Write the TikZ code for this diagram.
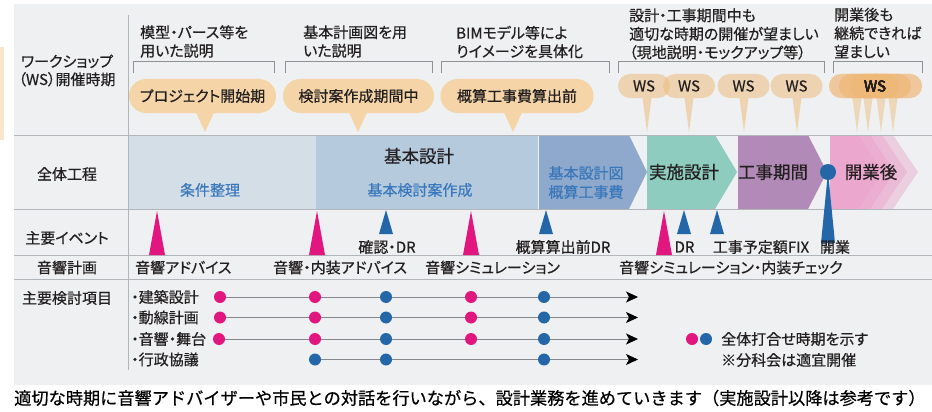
\documentclass[tikz,border=0pt]{standalone}
\usepackage{fontspec}
\setmainfont{Noto Sans CJK JP}[RawFeature=+palt, FakeBold=0.5]
\newfontfamily\capfont{Noto Sans CJK JP}[FakeBold=0.5]
\usetikzlibrary{calc,arrows.meta}

\definecolor{panelgray}{HTML}{EEF0F1}
\definecolor{rulegray}{HTML}{B2B6BA}
\definecolor{inkgray}{HTML}{231F20}
\definecolor{wsorange}{HTML}{F5D5A8}
\definecolor{wsdeep}{HTML}{EFB877}
\definecolor{prepblue}{HTML}{D3DEE7}
\definecolor{basicblue}{HTML}{B6CADE}
\definecolor{costblue}{HTML}{8EA9CB}
\definecolor{textblue}{HTML}{3A78BC}
\definecolor{detailteal}{HTML}{8DCCBE}
\definecolor{workpurple}{HTML}{B28AB7}
\definecolor{openpink}{HTML}{EB9DCA}
\definecolor{eventpink}{HTML}{E2167F}
\definecolor{eventblue}{HTML}{2467A9}
\definecolor{trackgray}{HTML}{85878A}

\tikzset{
	rowlabel/.style={text=inkgray, align=center, font=\fontsize{15}{18}\selectfont},
	note/.style={text=inkgray, anchor=west, align=left, inner sep=0pt, font=\fontsize{15}{18.5}\selectfont},
	bracket/.style={draw=rulegray!80!black, line width=0.8pt},
	bubble/.style={fill=wsorange, rounded corners=17pt, minimum height=34pt, inner sep=0pt, text=inkgray, font=\fontsize{15}{18}\selectfont},
	wsbubble/.style={fill=wsdeep, fill opacity=0.5, text opacity=1, rounded corners=12pt, minimum width=52pt, minimum height=24pt, inner sep=0pt, text=inkgray, font=\fontsize{15}{18}\selectfont},
	phase/.style={text=inkgray, font=\fontsize{17.5}{21}\selectfont},
	subphase/.style={text=textblue, align=center, font=\fontsize{15}{19}\selectfont},
	event/.style={text=inkgray, inner sep=0pt, font=\fontsize{15}{18}\selectfont},
	pdot/.style={circle, fill=eventpink, inner sep=0pt, minimum size=12pt},
	bdot/.style={circle, fill=eventblue, inner sep=0pt, minimum size=12pt},
	track/.style={draw=trackgray, line width=0.8pt, -{Stealth[length=12pt,width=11pt,inset=3pt,black]}},
}

\def\pinkmark(#1){\fill[eventpink] ({#1-8},255) -- (#1,211) -- ({#1+8},255) -- cycle;}
\def\bluemark(#1){\fill[eventblue] ({#1-7},234) -- (#1,210) -- ({#1+7},234) -- cycle;}
\def\wsbracket(#1:#2){\draw[bracket] (#1,73) -- (#1,61.5) -- (#2,61.5) -- (#2,73);}
\def\bubbletip[#1](#2:#3:#4){\fill[#1] ({#2-#4},#3) -- (#2,132) -- ({#2+#4},#3) -- cycle;}

\begin{document}
\begin{tikzpicture}[x=1pt,y=-1pt]
			%%%%% FRAME %%%%%
			\useasboundingbox (0,0) rectangle (932,412);
			\fill[white] (0,0) rectangle (932,412);
			\fill[wsorange!60] (0,47) rectangle (3.5,140);
			\fill[panelgray] (14,4) rectangle (932,385);
			
			%%%%% PHASES %%%%%
			\fill[prepblue] (128,135) rectangle (316,209);
			\fill[basicblue] (316,135) rectangle (538,209);
			\fill[costblue] (539,135) -- (629,135) -- (647,172) -- (629,209) -- (539,209) -- cycle;
			\fill[detailteal] (647,135) -- (715,135) -- (737,172) -- (715,209) -- (647,209) -- cycle;
			\fill[workpurple] (738,135) -- (808,135) -- (827,172) -- (808,209) -- (738,209) -- cycle;
			\foreach \e in {858,870,882,893}
				\fill[openpink, fill opacity=0.4] (830,135) -- (\e,135) -- ({\e+25},172) -- (\e,209) -- (830,209) -- cycle;
			
			%%%%% RULES %%%%%
			\draw[rulegray, line width=0.8pt] (128,15) -- (128,370);
			\foreach \y in {135,209,255,279}
				\draw[rulegray, line width=0.8pt] (14,\y) -- (932,\y);
			
			%%%%% ROW LABELS %%%%%
			\node[rowlabel] (lab-ws) at (67,70.5) {ワークショップ\\（WS）開催時期};
			\node[rowlabel] (lab-all) at (67,174) {全体工程};
			\node[rowlabel] (lab-event) at (67,238) {主要イベント};
			\node[rowlabel] (lab-acoustic) at (67,267.5) {音響計画};
			\node[rowlabel] (lab-items) at (67,298) {主要検討項目};
			
			%%%%% WORKSHOPS %%%%%
			\node[note] (n-model) at (140,41.5) {模型・パース等を\\用いた説明};
			\node[note] (n-plan) at (303,41.5) {基本計画図を用\\いた説明};
			\node[note] (n-bim) at (456,42) {BIMモデル等によ\\りイメージを具体化};
			\node[note] (n-during) at (629,34) {設計・工事期間中も\\適切な時期の開催が望ましい\\（現地説明・モックアップ等）};
			\node[note] (n-after) at (834,33) {開業後も\\継続できれば\\望ましい};
			\wsbracket(133:274)
			\wsbracket(285:432)
			\wsbracket(441:609)
			\wsbracket(618:824)
			\wsbracket(833:922)
			
			\node[bubble, minimum width=147pt] (ws-start) at (202.5,96) {プロジェクト開始期};
			\bubbletip[wsorange](205:112.5:9)
			\node[bubble, minimum width=151pt] (ws-study) at (358.5,96) {検討案作成期間中};
			\bubbletip[wsorange](358:112.5:9)
			\node[bubble, minimum width=153pt] (ws-cost) at (517,96) {概算工事費算出前};
			\bubbletip[wsorange](513:112.5:9)
			
			\node[wsbubble] (ws-a) at (644,86) {WS};
			\node[wsbubble] (ws-b) at (689,86) {WS};
			\node[wsbubble] (ws-c) at (743.5,86) {WS};
			\node[wsbubble] (ws-d) at (796.5,86) {WS};
			\foreach \t in {647,689,744,797}
				\bubbletip[wsdeep, fill opacity=0.5](\t:98:4.5)
			\foreach \c in {859,869,881,892}
				\fill[wsdeep, fill opacity=0.25, rounded corners=12pt] ({\c-30},74) rectangle ({\c+30},98);
			\foreach \t in {857,868,881,893}
				\bubbletip[wsdeep, fill opacity=0.45](\t:98:4.5)
			\node[text=inkgray, font=\fontsize{15}{18}\selectfont] (ws-e) at (875,86) {WS};
			
			%%%%% PHASE TEXT %%%%%
			\node[subphase] (ph-prep) at (210,190) {条件整理};
			\node[phase] (ph-basic) at (419,156) {基本設計};
			\node[subphase] (ph-study) at (420,190) {基本検討案作成};
			\node[subphase] (ph-cost) at (586,182.5) {基本設計図\\概算工事費};
			\node[phase] (ph-detail) at (684,172) {実施設計};
			\node[phase] (ph-work) at (773,172) {工事期間};
			\node[phase] (ph-open) at (871,172) {開業後};
			
			%%%%% EVENTS %%%%%
			\pinkmark(157)
			\pinkmark(317)
			\pinkmark(471)
			\pinkmark(664)
			\bluemark(386)
			\bluemark(546)
			\bluemark(684)
			\bluemark(717)
			\node[circle, fill=eventblue, inner sep=0pt, minimum size=16pt] (ev-open) at (828,172) {};
			\fill[eventblue] (ev-open.center) -- (821,243) -- (835,243) -- cycle;
			\node[event] (ev-check) at (387,247) {確認・DR};
			\node[event] (ev-cost) at (563,247) {概算算出前DR};
			\node[event] (ev-dr) at (684.5,247) {DR};
			\node[event] (ev-fix) at (761,247) {工事予定額FIX};
			\node[event] (ev-open-t) at (835,247) {開業};
			
			%%%%% ACOUSTICS %%%%%
			\node[event, anchor=west] (ac-1) at (135,267.5) {音響アドバイス};
			\node[event, anchor=west] (ac-2) at (273,267.5) {音響・内装アドバイス};
			\node[event, anchor=west] (ac-3) at (425,267.5) {音響シミュレーション};
			\node[event, anchor=west] (ac-4) at (619,267.5) {音響シミュレーション・内装チェック};
			
			%%%%% ITEMS %%%%%
			\node[event, anchor=west] (it-arch) at (131,297) {・建築設計};
			\node[event, anchor=west] (it-flow) at (131,317.5) {・動線計画};
			\node[event, anchor=west] (it-stage) at (131,339) {・音響・舞台};
			\node[event, anchor=west] (it-admin) at (131,359.5) {・行政協議};
			
			\coordinate (k1s) at (220,297);
			\coordinate (k1e) at (638,297);
			\coordinate (k2s) at (220,317.5);
			\coordinate (k2e) at (638,317.5);
			\coordinate (k3s) at (219,339);
			\coordinate (k3e) at (638,339);
			\coordinate (k4s) at (315,359.5);
			\coordinate (k4e) at (638,359.5);
			\draw[track] (k1s) -- (k1e);
			\draw[track] (k2s) -- (k2e);
			\draw[track] (k3s) -- (k3e);
			\draw[track] (k4s) -- (k4e);
			\foreach \r/\y in {1/297,2/317.5,3/339}{
				\node[pdot] (k\r a) at (k\r s) {};
				\node[pdot] (k\r b) at (315,\y) {};
				\node[bdot] (k\r c) at (386,\y) {};
				\node[pdot] (k\r d) at (471,\y) {};
				\node[bdot] (k\r e) at (544,\y) {};
			}
			\node[bdot] (k4a) at (k4s) {};
			\node[bdot] (k4c) at (386,359.5) {};
			\node[bdot] (k4e) at (544,359.5) {};
			
			%%%%% LEGEND %%%%%
			\node[pdot] (leg-p) at (692,339) {};
			\node[bdot] (leg-b) at (706,339) {};
			\node[event, anchor=west] (leg-1) at (721,339) {全体打合せ時期を示す};
			\node[event, anchor=west] (leg-2) at (721,360) {※分科会は適宜開催};
			
			%%%%% CAPTION %%%%%
			\node[text=black, anchor=west, inner sep=0pt, font=\capfont\fontsize{17.2}{20}\selectfont] (caption) at (14,398) {適切な時期に音響アドバイザーや市民との対話を行いながら、設計業務を進めていきます（実施設計以降は参考です）};
\end{tikzpicture}
\end{document}
